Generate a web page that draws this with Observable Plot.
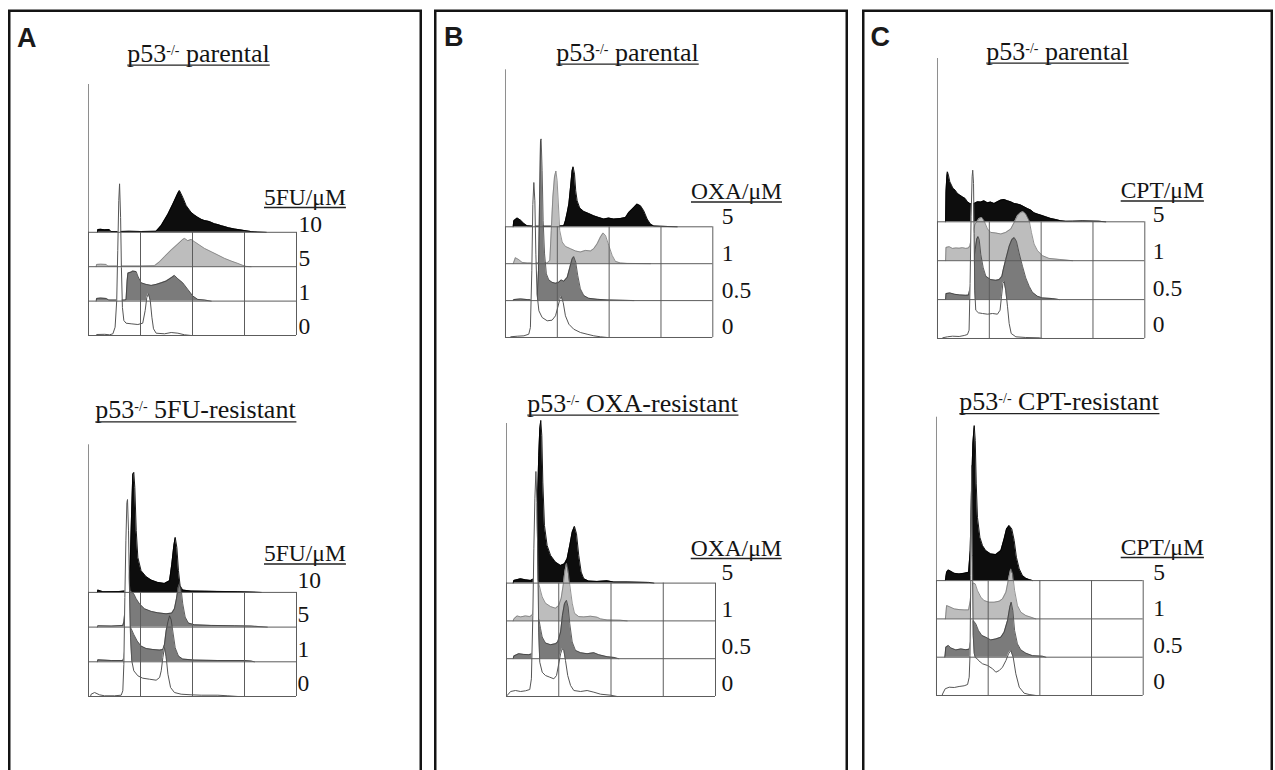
<!DOCTYPE html>
<html><head><meta charset="utf-8">
<script src="https://cdn.jsdelivr.net/npm/d3@7"></script>
<script src="https://cdn.jsdelivr.net/npm/@observablehq/plot@0.6"></script>
<style>
html,body{margin:0;padding:0;background:#fff;overflow:hidden;}
#fig{position:relative;width:1275px;height:770px;overflow:hidden;background:#fff;}
</style></head>
<body><div id="fig"></div>
<script>
// ---- data: DNA content histograms, [channel (0-1024), relative count] ----
const dosesA = ["10", "5", "1", "0"];
const dosesBC = ["5", "1", "0.5", "0"];
const gridChannels = [0, 256, 512, 768, 1024];

// Panel A, parental, 5FU 10/5/1/0 µM
const A1_10 = [[44,0],[46,2.7],[60,3],[80,2.5],[103,2.7],[110,0.8],[144,0.7],[200,1],[260,0.8],[333,1],[358,6.7],[391,18],[415,28],[440,39],[448,41.7],[464,35],[481,26.7],[505,20],[520,17.5],[538,15],[555,13],[571,11.7],[590,11],[604,10],[620,8.5],[637,7.7],[655,6.5],[670,5.7],[690,4.5],[719,3.3],[745,2.5],[768,1.7],[801,0.7],[834,0.3],[875,0]];
const A1_5 = [[38,0],[40,2.3],[60,2.5],[87,2.3],[95,0.6],[150,0.7],[250,0.7],[325,1],[350,5],[374,10],[407,16.7],[440,22.7],[464,27.3],[473,28.3],[489,26],[505,27.3],[522,25],[546,21.7],[571,18.3],[604,15],[637,11.7],[670,8.3],[702,5.7],[735,3.3],[760,1.3],[776,0.3],[800,0]];
const A1_1 = [[38,0],[40,2.7],[60,3],[87,2.7],[100,1],[177,1],[185,1.5],[190,20],[194,28],[210,29],[218,30],[235,29.5],[243,25],[259,18.3],[284,16.7],[309,15.7],[333,16.7],[358,18.3],[382,20],[407,23.3],[423,25.7],[440,22.3],[464,18.3],[489,11.7],[514,5],[538,1.7],[571,1],[604,0]];
const A1_0 = [[38,0],[40,1],[80,1.2],[103,0.7],[120,1.7],[131,8.3],[139,35],[144,85],[149,135],[153,151.7],[158,118],[162,68],[167,28],[174,15],[185,12.3],[210,11.7],[243,11],[267,12.3],[279,25],[287,38],[295,41.7],[304,35],[312,18.3],[320,6.7],[333,2.3],[374,1.7],[407,3],[440,2.3],[473,0.7],[505,0]];

// Panel A, 5FU-resistant
const A2_10 = [[44,0],[46,2.3],[60,1.5],[71,0.7],[150,0.8],[194,1.7],[205,28],[212,78],[218,118],[223,120],[228,105],[235,62],[243,35],[259,21.7],[284,15.7],[309,12.3],[341,10],[374,9],[399,11.7],[410,28],[420,46.7],[427,55],[435,45],[443,21.7],[451,6.7],[464,2.3],[505,1.3],[570,1.2],[637,1],[735,0.7],[850,0]];
const A2_5 = [[44,0],[46,1.3],[112,1],[169,1.7],[174,5],[181,20],[187,36.7],[194,50],[200,43],[207,36.7],[213,35],[223,33.3],[235,28.3],[251,23.3],[276,18.3],[309,15.7],[341,14.3],[382,13.3],[410,14],[423,18.3],[433,28.3],[441,39],[448,43],[456,38],[464,23.3],[476,10],[492,4],[522,2.3],[604,1.7],[719,1.3],[801,1],[880,0]];
const A2_1 = [[44,0],[46,2],[112,1.3],[169,1.3],[174,4],[181,17],[187,30.7],[194,40.7],[200,37.3],[210,33.3],[223,27.3],[240,20.7],[259,15.7],[284,13.3],[317,12.3],[350,11.7],[366,12.3],[374,17.3],[382,30.7],[391,40],[399,46],[407,42],[415,30.7],[427,14],[443,5.7],[464,2.7],[522,1.7],[637,1.3],[768,1.3],[801,0.7],[817,0]];
const A2_0 = [[10,0],[13,2.3],[30,4],[54,1.7],[79,0.7],[128,0.7],[161,1.3],[169,5.7],[174,32],[179,99],[184,155.7],[189,194],[192,197],[197,165.7],[202,105.7],[207,59],[213,35.7],[223,25.7],[243,20.7],[267,18.3],[300,17.3],[333,16.3],[350,19],[358,25.7],[366,39],[374,49],[382,40],[391,22.3],[404,9],[423,4],[456,2.3],[505,1.7],[555,1.3],[637,1.3],[686,0.7],[735,0]];

// Panel B, parental, OXA 5/1/0.5/0 µM
const B1_5 = [[38,0],[41,6],[58,8.7],[74,6.7],[91,3.3],[107,1],[140,0.5],[222,0.5],[288,1],[296,6],[305,14.3],[313,22.7],[321,39],[329,56],[334,60],[341,52.7],[347,36],[354,26],[367,18.7],[387,15.3],[411,13.3],[436,11],[461,9.3],[486,7.7],[510,8.7],[535,7.7],[568,8.3],[593,9.3],[609,14.3],[634,19.3],[650,22.7],[667,21],[683,16],[700,7.7],[716,2.7],[733,0.7],[765,0.5],[848,0]];
const B1_1 = [[38,0],[41,1.5],[49,6],[66,4],[82,1.3],[107,0.7],[206,0.7],[219,3.3],[226,33],[234,66.7],[242,86.7],[249,92.7],[255,83],[262,56.7],[268,33],[280,21.7],[296,17.3],[321,15],[346,12.7],[370,11.7],[395,13.3],[420,12.7],[436,15],[453,20],[469,26.7],[482,30.7],[494,28.3],[510,18.3],[527,8.3],[543,2.3],[568,0.7],[601,0.3],[716,0]];
const B1_05 = [[38,0],[41,1],[74,1.7],[107,1],[140,0.7],[156,1.7],[163,30],[168,96.7],[173,160],[176,161.7],[181,130],[186,80],[193,46.7],[202,26.7],[214,20.7],[230,18.3],[247,17.3],[263,18.3],[275,20.7],[288,19.3],[305,23.3],[318,33.3],[329,41.7],[337,44],[347,38.3],[357,25],[370,11.7],[387,5],[411,2.3],[453,1.3],[502,0.7],[634,0]];
const B1_0 = [[22,0],[25,0.7],[58,1.3],[91,1.7],[115,3.3],[123,10],[130,66.7],[135,133],[140,155],[145,136.7],[150,83.3],[156,43.3],[165,26.7],[181,20],[206,16.7],[230,17.3],[247,21.7],[258,30],[268,38],[275,41],[285,35],[296,21.7],[313,13.3],[337,8.3],[370,5],[403,3.3],[436,1.7],[469,0.7],[502,0]];

// Panel B, OXA-resistant
const B2_5 = [[33,0],[36,2.7],[69,4.3],[93,3.3],[118,2.7],[134,4.3],[142,11],[150,67.7],[158,127.7],[163,154],[168,162.7],[173,147.7],[178,101],[186,57.7],[199,37.7],[216,27.7],[240,21],[265,17.7],[284,19.3],[297,24.3],[310,37.7],[322,51],[333,56.7],[343,49.3],[354,27.7],[366,11],[379,4.3],[403,2],[444,1.7],[493,2.3],[526,1],[591,1],[697,0.7],[722,0]];
const B2_1 = [[33,0],[36,2],[52,5],[69,4],[93,5],[114,4.3],[126,6],[134,12.7],[140,29],[147,40],[154,40],[160,36],[167,30],[175,24],[191,17.7],[216,14.3],[240,12.7],[256,15.3],[268,22.7],[278,36],[286,49.3],[294,57.5],[302,50],[310,36],[322,17.7],[333,7.7],[354,4.3],[379,4],[412,4.7],[444,3.7],[461,2],[493,1],[558,0.7],[591,0]];
const B2_05 = [[33,0],[36,2.7],[60,5],[85,4.3],[109,4],[126,5],[134,13],[140,30],[147,40],[154,42],[160,38],[167,30],[175,21.7],[191,15.7],[216,14],[240,15],[251,16.7],[265,26.7],[274,43.3],[284,55],[294,58.3],[302,51.7],[310,35],[322,16.7],[338,8.3],[363,6],[395,5],[428,6],[452,4],[493,2],[526,1.3],[550,0]];
const B2_0 = [[0,0],[3,1],[20,5],[44,6],[69,5],[93,5.7],[114,7],[122,17.7],[129,81],[134,147.7],[139,197.7],[144,225],[149,194],[154,131],[158,64.3],[163,34.3],[175,24.3],[191,21],[212,19.3],[232,17.7],[245,21],[256,32.7],[265,42.7],[273,47.7],[281,46],[289,36],[300,21],[314,11],[330,6],[363,5],[395,6],[428,4.3],[461,2.3],[510,1.3],[542,0]];

// Panel C, parental, CPT 5/1/0.5/0 µM
const C1_5 = [[40,0],[42,30],[46,45],[49,50],[54,46.7],[61,40],[69,36.7],[77,33.3],[87,31.7],[99,28.3],[110,26.7],[123,25],[137,23.3],[148,20],[160,18.3],[170,17.7],[181,18.3],[198,20],[214,19.7],[230,21],[247,19],[263,19.7],[280,18.3],[296,20],[313,21.7],[329,22.3],[346,21],[362,20],[379,18.3],[395,17.7],[412,16.7],[428,15],[444,13.3],[461,11.7],[477,9],[494,7.7],[510,6.7],[535,5],[560,3.3],[584,2.3],[609,1],[634,0.5],[667,0.6],[716,0.8],[798,0.5],[831,0]];
const C1_1 = [[40,0],[42,13.3],[58,14],[74,12.3],[91,12.7],[107,12.5],[123,13],[140,12.3],[153,12.7],[160,15],[173,28],[186,36.7],[198,40],[206,42.3],[219,43.3],[230,40],[247,31.7],[263,28.3],[288,27.7],[313,26.7],[337,28.3],[362,31.7],[379,38.3],[395,45],[412,48.3],[423,49],[436,46.7],[453,40],[464,28.3],[477,16.7],[494,10],[519,5],[551,2.3],[601,1.3],[667,0]];
const C1_05 = [[40,0],[42,6],[61,6.7],[85,5.3],[110,4.7],[140,4.3],[153,4.5],[165,15],[173,30],[186,50],[194,60.7],[200,63],[206,60],[214,45],[226,31.7],[239,23.3],[263,20],[288,19.3],[305,20],[318,23.3],[325,30],[337,40],[354,53.3],[367,60],[379,62],[390,58.3],[403,46.7],[420,33.3],[436,21.7],[453,13.3],[469,7.3],[494,3.3],[519,1.7],[568,1],[601,0]];
const C1_0 = [[22,0],[25,0.7],[49,1.7],[74,2.3],[107,2],[132,3],[148,4],[156,8.3],[161,55],[166,121.7],[171,161.7],[174,168.3],[178,155],[181,105],[184,48.3],[189,28.3],[202,25.7],[222,25],[247,24.3],[272,25],[296,24.3],[309,28.3],[316,41.7],[323,55],[329,57],[337,48.3],[346,31.7],[354,15],[364,5],[387,1.7],[436,1],[502,0.7],[519,0]];

// Panel C, CPT-resistant
const C2_5 = [[44,0],[46,3],[50,8.3],[59,10.7],[71,9.3],[88,7.3],[112,6.7],[137,7.3],[159,8.3],[167,30],[173,86.7],[180,136.7],[187,155],[192,140],[197,96.7],[203,63.3],[215,43.3],[228,35],[244,30],[269,26.7],[294,26],[319,30],[335,41.7],[347,51.7],[360,55],[373,51.7],[385,40],[396,23.3],[410,11.7],[426,5],[443,2.3],[459,1],[476,0]];
const C2_1 = [[44,0],[46,4],[50,13.3],[63,12.3],[88,10],[112,9.3],[137,9],[159,9],[167,18],[174,33],[182,36],[192,35],[203,28.3],[220,21.7],[236,18.3],[261,16.7],[286,16.7],[311,17.7],[327,20],[344,26.7],[357,40],[368,50],[377,45],[387,28.3],[401,13.3],[418,6.7],[443,3.3],[468,1.7],[492,0]];
const C2_05 = [[41,0],[43,3],[46,10],[59,11.7],[71,9.3],[96,7.3],[121,8.3],[145,7.5],[162,8],[169,16],[176,34],[182,36.7],[195,33.3],[208,26.7],[225,21.7],[244,20],[269,17.3],[294,18.3],[319,20],[335,25],[352,36.7],[363,50],[370,55],[378,46.7],[387,26.7],[401,13.3],[418,7.3],[443,4],[476,1.5],[525,1],[542,0]];
const C2_0 = [[28,0],[30,1.5],[43,6.7],[63,8.3],[88,8],[112,9],[137,9.7],[154,11],[162,18.3],[166,40],[170,120],[174,230],[178,140],[182,60],[187,42],[192,38],[202,36.7],[208,35],[228,31.7],[253,30],[278,26.7],[294,23.3],[311,25],[327,28.3],[344,35],[357,41.7],[368,45],[380,38.3],[393,21.7],[410,8.3],[434,2.3],[459,1],[492,0]];

// ---- styles ----
const SERIF = "'Liberation Serif','Times New Roman',serif";
const SANS = "'Liberation Sans',Arial,sans-serif";
const TONE = {
  black: {fill: "#0d0d0d", stroke: "#000", sw: 0.9},
  light: {fill: "#bdbdbd", stroke: "#7a7a7a", sw: 0.8},
  dark:  {fill: "#7b7b7b", stroke: "#3a3a3a", sw: 0.8},
  white: {fill: "#ffffff", stroke: "#555", sw: 1}
};

// label placement: first label raised l0 above the top row, then a fixed step downwards
const groups = [
  {x0: 88, x1: 296, bottom: 335, s: 34.4, axisTop: 84, rows: [A1_10, A1_5, A1_1, A1_0], tones: ["black","light","dark","white"], doses: dosesA, ldx: 2, l0: 0, lstep: 33.8},
  {x0: 88, x1: 296, bottom: 695.7, s: 34.7, axisTop: 444, rows: [A2_10, A2_5, A2_1, A2_0], tones: ["black","dark","dark","white"], doses: dosesA, ldx: 1, l0: 4.5, lstep: 34.3},
  {x0: 505, x1: 712.3, bottom: 336.7, s: 36.9, axisTop: 69, rows: [B1_5, B1_1, B1_05, B1_0], tones: ["black","light","dark","white"], doses: dosesBC, ldx: 9, l0: 2.5, lstep: 36.7},
  {x0: 506, x1: 715, bottom: 696, s: 37.8, axisTop: 423, rows: [B2_5, B2_1, B2_05, B2_0], tones: ["black","light","dark","white"], doses: dosesBC, ldx: 6, l0: 3, lstep: 36.9},
  {x0: 937, x1: 1144.3, bottom: 338.3, s: 38.9, axisTop: 58.3, rows: [C1_5, C1_1, C1_05, C1_0], tones: ["black","light","dark","white"], doses: dosesBC, ldx: 8, l0: -0.5, lstep: 36.7},
  {x0: 936, x1: 1142.7, bottom: 695, s: 38.3, axisTop: 416.7, rows: [C2_5, C2_1, C2_05, C2_0], tones: ["black","light","dark","white"], doses: dosesBC, ldx: 10, l0: 1, lstep: 36.5}
];

const panels = [
  {letter: "A", x: 9.25, w: 411.5, lx: 17, ly: 47},
  {letter: "B", x: 435.25, w: 411.5, lx: 444, ly: 45.5},
  {letter: "C", x: 863.25, w: 408.5, lx: 870.5, ly: 45.5}
];
const titles = [
  {pre: "p53", sup: "-/-", post: " parental", cx: 198.5, y: 61.5},
  {pre: "p53", sup: "-/-", post: " 5FU-resistant", cx: 195.5, y: 418.3},
  {pre: "p53", sup: "-/-", post: " parental", cx: 627.5, y: 60.5},
  {pre: "p53", sup: "-/-", post: " OXA-resistant", cx: 632.5, y: 411.5},
  {pre: "p53", sup: "-/-", post: " parental", cx: 1057.5, y: 59.5},
  {pre: "p53", sup: "-/-", post: " CPT-resistant", cx: 1059, y: 410}
];
const drugLabels = [
  {t: "5FU/\u03BCM", x: 264, y: 204.5},
  {t: "5FU/\u03BCM", x: 264, y: 561},
  {t: "OXA/\u03BCM", x: 691, y: 199},
  {t: "OXA/\u03BCM", x: 690.7, y: 555.5},
  {t: "CPT/\u03BCM", x: 1120.7, y: 198},
  {t: "CPT/\u03BCM", x: 1120.7, y: 554.5}
];

const fig = document.getElementById("fig");

// ---- frame + text overlay ----
const ov = d3.select(fig).append("svg").attr("width", 1275).attr("height", 770)
  .style("position", "absolute").style("left", "0px").style("top", "0px");
panels.forEach(p => {
  ov.append("rect").attr("x", p.x).attr("y", 10.75).attr("width", p.w).attr("height", 820)
    .attr("fill", "none").attr("stroke", "#141414").attr("stroke-width", 2.5);
  ov.append("text").attr("x", p.lx).attr("y", p.ly).attr("font-family", SANS).attr("font-weight", "bold")
    .attr("font-size", 27).attr("fill", "#1a1a1a").text(p.letter);
});
function underline(sel, gap) {
  const b = sel.node().getBBox();
  const y = +sel.attr("y") + gap;
  ov.append("line").attr("x1", b.x).attr("x2", b.x + b.width).attr("y1", y).attr("y2", y)
    .attr("stroke", "#222").attr("stroke-width", 1.3);
}
titles.forEach(t => {
  const tx = ov.append("text").attr("x", t.cx).attr("y", t.y).attr("text-anchor", "middle")
    .attr("font-family", SERIF).attr("font-size", 26).attr("fill", "#141414");
  tx.append("tspan").text(t.pre);
  tx.append("tspan").attr("dy", -7).attr("font-size", 14).text(t.sup);
  tx.append("tspan").attr("dy", 7).text(t.post);
  underline(tx, 3.6);
});
drugLabels.forEach(d => {
  const tx = ov.append("text").attr("x", d.x).attr("y", d.y).attr("font-family", SERIF)
    .attr("font-size", 23.5).attr("fill", "#141414").text(d.t);
  underline(tx, 3);
});

// ---- histogram stacks ----
function drawGroup(g) {
  const w = g.x1 - g.x0;
  const n = g.rows.length;
  const offs = g.rows.map((_, i) => (n - 1 - i) * g.s);
  const axisH = g.bottom - g.axisTop;
  let yTop = axisH;
  g.rows.forEach((r, i) => r.forEach(p => { yTop = Math.max(yTop, offs[i] + p[1]); }));
  yTop = Math.ceil(yTop + 3);
  const ml = 3, mr = 75, mt = 3, mb = 6;
  const width = w + ml + mr, height = yTop + mt + mb;
  const marks = [];
  g.rows.forEach((data, i) => {
    const o = offs[i], st = TONE[g.tones[i]];
    marks.push(Plot.area(data, {x1: d => d[0], y1: () => o, y2: d => o + d[1], fill: st.fill, curve: "linear"}));
    marks.push(Plot.line(data, {x: d => d[0], y: d => o + d[1], stroke: st.stroke, strokeWidth: st.sw, curve: "linear"}));
  });
  marks.push(Plot.ruleX([0], {y1: () => 0, y2: () => axisH, stroke: "#8e8e8e", strokeWidth: 1}));
  marks.push(Plot.ruleX(gridChannels, {y1: () => 0, y2: () => offs[0], stroke: "#5c5c5c", strokeWidth: 1}));
  marks.push(Plot.ruleY(offs, {x1: () => 0, x2: () => 1024, stroke: "#5c5c5c", strokeWidth: 1}));
  marks.push(Plot.text(g.doses, {x: () => 1024, y: (d, i) => offs[0] + g.l0 - i * g.lstep, text: d => d, dx: g.ldx,
    textAnchor: "start", lineAnchor: "bottom", fontSize: 23.5, fontFamily: SERIF, fill: "#141414"}));
  const svg = Plot.plot({
    width, height, marginLeft: ml, marginRight: mr, marginTop: mt, marginBottom: mb,
    x: {domain: [0, 1024], axis: null},
    y: {domain: [0, yTop], axis: null},
    marks
  });
  svg.style.cssText = `position:absolute;left:${g.x0 - ml}px;top:${g.bottom - yTop - mt}px;background:transparent;overflow:visible;max-width:none;width:${width}px;height:${height}px;`;
  fig.appendChild(svg);
}
groups.forEach(drawGroup);
</script>
</body></html>
